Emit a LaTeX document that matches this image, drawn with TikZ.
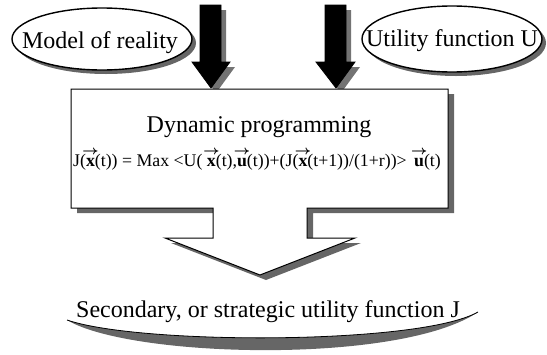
\documentclass[tikz,border=0pt]{standalone}
\usepackage{fontspec}
\setmainfont{Liberation Serif}
\usepackage{amsmath}
\usetikzlibrary{shapes.geometric,shadows}
\newcommand{\bvec}[1]{$\overset{\makebox[0pt]{$\scriptstyle\boldsymbol{\rightarrow}$}}{\textbf{#1}}$}

\begin{document}
\begin{tikzpicture}[x=0.5pt, y=-0.5pt, font=\fontsize{12}{14}\selectfont,
oval/.style={draw, fill=white, line width=0.7pt,
  drop shadow={shadow xshift=2pt, shadow yshift=-2pt, fill=black!60, opacity=1}},
blockarrow/.style={fill=black, drop shadow={shadow xshift=2.5pt, shadow yshift=-2.5pt, fill=black!55, opacity=1}},
panel/.style={draw, fill=white, line width=0.5pt,
  drop shadow={shadow xshift=3pt, shadow yshift=-2.5pt, fill=black!60, opacity=1}},
swoosh/.style={fill=black!60},
eqn/.style={font=\fontsize{8.9}{10}\selectfont}]
\useasboundingbox (0,0) rectangle (547,354);
\draw[oval] (102,39) ellipse (90 and 31);
\draw[oval] (452,39) ellipse (90 and 33);
\node (model) at (100,43) {Model of reality};
\node (utility) at (452,41) {Utility function U};
% input arrows
\draw[blockarrow] (200,5) -- (221,5) -- (221,62) -- (230,62) -- (211,88) -- (192,62) -- (200,62) -- cycle;
\draw[blockarrow] (325,5) -- (346,5) -- (346,62) -- (355,62) -- (336,88) -- (316,62) -- (325,62) -- cycle;
% box with output arrow
\draw[panel] (71,89) -- (448,89) -- (448,208) -- (307,208) -- (307,238) -- (355,238) -- (260,275)
  -- (165,238) -- (213,238) -- (213,208) -- (71,208) -- cycle;
\node (dp) at (259,127) {Dynamic programming};
\node[eqn] (bellman) at (257,159) {J(\bvec{x}(t)) = Max <U( \bvec{x}(t),\bvec{u}(t))+(J(\bvec{x}(t+1))/(1+r))> \,\bvec{u}(t)};
% strategic utility
\fill[swoosh] (67,320) .. controls (130,358) and (400,365) .. (478,312)
  .. controls (420,345) and (140,345) .. (67,320) -- cycle;
\draw[thin] (478,312) .. controls (420,345) and (140,345) .. (67,320);
\node (strategic) at (268,312) {Secondary, or strategic utility function J};
\end{tikzpicture}
\end{document}
